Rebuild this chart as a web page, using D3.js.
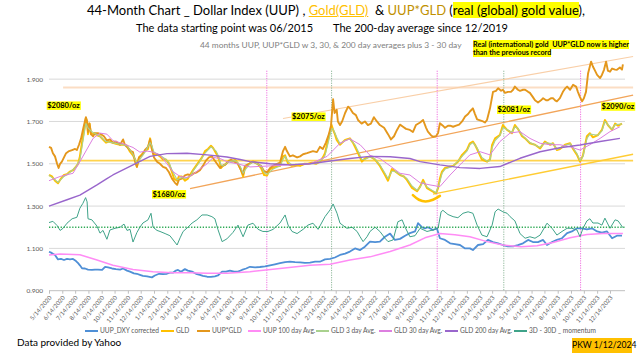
<!DOCTYPE html>
<html><head><meta charset="utf-8">
<script src="https://cdn.jsdelivr.net/npm/d3@7"></script>
<style>
body{margin:0;width:640px;height:360px;overflow:hidden;background:#fff;font-family:Lato,"Liberation Sans",sans-serif;}
#wrap{position:relative;width:640px;height:360px;}
svg{position:absolute;left:0;top:0;}
.t{position:absolute;white-space:nowrap;line-height:1;}
.hl{background:#FFFF00;font-weight:bold;color:#000;}
</style></head><body><div id="wrap"></div>
<script>
// ---------- DATA (x = weeks since 5/14/2020) ----------
const tickLabels = ["5/14/2020","6/14/2020","7/14/2020","8/14/2020","9/14/2020","10/14/2020","11/14/2020","12/14/2020",
"1/14/2021","2/14/2021","3/14/2021","4/14/2021","5/14/2021","6/14/2021","7/14/2021","8/14/2021","9/14/2021","10/14/2021","11/14/2021","12/14/2021",
"1/14/2022","2/14/2022","3/14/2022","4/14/2022","5/14/2022","6/14/2022","7/14/2022","8/14/2022","9/14/2022","10/14/2022","11/14/2022","12/14/2022",
"1/14/2023","2/14/2023","3/14/2023","4/14/2023","5/14/2023","6/14/2023","7/14/2023","8/14/2023","9/14/2023","10/14/2023","11/14/2023","12/14/2023"];
const yTicks = [0.9,1.1,1.3,1.5,1.7,1.9];

const uupDxy = [[0,1.084],[0.7,1.08],[1.3,1.075],[2,1.069],[3,1.048],[4,1.05],[5,1.045],[6,1.05],[7,1.048],[8,1.05],[9,1.04],[9.7,1.03],[10.3,1.02],[11,1.006],[12,1.005],[13,1.0],[14.3,0.998],[15.3,1.0],[16.3,1.0],[17.7,0.998],[18.7,1.013],[19.7,1.01],[21,1.005],[22.3,1.002],[23.7,1.0],[24.7,1.005],[26,0.995],[27,0.99],[28.3,0.982],[29.3,0.98],[30.3,0.975],[31.3,0.97],[32.7,0.968],[34.3,0.963],[35.3,0.972],[36.7,0.98],[38,0.978],[39.3,0.98],[40.3,0.985],[41.3,0.985],[42.3,0.995],[43,0.998],[44,0.99],[45.3,1.002],[46.3,0.995],[47.7,0.99],[49,0.98],[50.3,0.975],[51.3,0.97],[52.7,0.966],[54,0.965],[55.3,0.968],[56.3,0.972],[57.7,0.99],[59,0.99],[60.3,0.995],[61.7,0.99],[63,0.99],[64.3,0.998],[65.7,1.005],[67,1.013],[68.7,1.01],[70.3,1.012],[72,1.015],[73.7,1.02],[75.3,1.025],[77,1.03],[78.7,1.035],[80.3,1.037],[82,1.035],[83.7,1.034],[85.3,1.032],[87,1.033],[88.7,1.037],[90.3,1.037],[92,1.048],[93.7,1.05],[95.3,1.057],[97,1.069],[98.7,1.075],[100.3,1.085],[102,1.1],[103.7,1.092],[105.3,1.108],[107,1.132],[108.7,1.13],[110.3,1.132],[112,1.155],[113.7,1.17],[115.3,1.14],[117,1.145],[118.7,1.16],[120.3,1.172],[122,1.18],[123,1.219],[124.3,1.2],[125.3,1.195],[126.3,1.2],[128,1.187],[129.3,1.195],[130.3,1.148],[132,1.14],[133.7,1.124],[135.3,1.12],[137,1.116],[138.7,1.1],[140.3,1.1],[141.3,1.092],[143,1.116],[144.7,1.12],[146.3,1.14],[148,1.13],[149.7,1.124],[151.3,1.116],[153,1.11],[154.7,1.11],[156.3,1.115],[158,1.124],[159.7,1.14],[161.3,1.13],[163,1.13],[164.7,1.14],[166,1.116],[167.7,1.13],[169.3,1.14],[171,1.148],[172.7,1.172],[174.3,1.18],[176,1.195],[177.7,1.195],[179.3,1.19],[181,1.195],[182.7,1.18],[184.3,1.175],[186,1.18],[187.7,1.148],[189.3,1.16],[191,1.16]];

const gld = [[0,1.447],[1,1.44],[2,1.42],[3,1.408],[4,1.43],[5,1.447],[6,1.45],[7,1.463],[8,1.47],[9,1.487],[9.7,1.5],[10.3,1.535],[11,1.6],[11.7,1.66],[12.3,1.716],[12.7,1.7],[13,1.64],[13.5,1.69],[14,1.64],[15,1.645],[16,1.635],[17,1.63],[18,1.615],[19,1.6],[20,1.605],[21,1.6],[22.3,1.595],[23.7,1.59],[25,1.59],[26,1.585],[27,1.557],[28,1.54],[28.7,1.52],[29.3,1.487],[30,1.53],[31,1.545],[32,1.56],[33,1.57],[33.7,1.62],[34.3,1.57],[35,1.545],[36,1.545],[37,1.535],[38,1.52],[39,1.52],[40,1.5],[41,1.46],[41.7,1.43],[42.7,1.42],[43.3,1.44],[44.3,1.44],[45.3,1.42],[46.3,1.43],[47,1.447],[48,1.47],[49,1.49],[50,1.51],[51,1.53],[52,1.56],[53,1.57],[54,1.585],[54.7,1.575],[55.7,1.55],[56.7,1.52],[57.3,1.48],[58,1.49],[59,1.5],[60,1.515],[61,1.51],[62,1.52],[63,1.5],[64,1.47],[64.7,1.44],[65.3,1.48],[66.7,1.5],[68,1.51],[69.3,1.505],[70.7,1.48],[71.7,1.447],[72.7,1.445],[73.7,1.475],[74.7,1.48],[76,1.49],[77,1.49],[78,1.535],[78.7,1.54],[79.7,1.5],[81,1.49],[82.3,1.495],[83.7,1.49],[85,1.5],[86.3,1.5],[87.7,1.505],[89,1.5],[90.3,1.51],[91.3,1.53],[92,1.55],[93,1.613],[94.2,1.683],[94.7,1.66],[95.3,1.64],[95.9,1.613],[97,1.59],[98.7,1.613],[100.3,1.62],[101.3,1.6],[102,1.58],[103,1.55],[104.3,1.51],[105.3,1.525],[107,1.535],[108.7,1.52],[110.3,1.49],[112,1.447],[113,1.42],[114.3,1.475],[115.3,1.465],[117,1.447],[118.3,1.44],[119.3,1.424],[121,1.386],[122.7,1.37],[123.7,1.392],[124.7,1.424],[126,1.385],[127,1.376],[128,1.368],[129,1.36],[129.7,1.385],[130.3,1.43],[131,1.463],[132,1.48],[133.7,1.487],[134.7,1.49],[136.3,1.51],[137.7,1.542],[139.3,1.565],[140.3,1.597],[141.3,1.605],[142,1.59],[142.7,1.57],[144.3,1.52],[146,1.51],[147,1.52],[147.7,1.589],[148.7,1.62],[150.3,1.636],[151.3,1.683],[152.7,1.66],[154.3,1.645],[155.3,1.683],[156.3,1.665],[157.7,1.63],[158.7,1.62],[160.3,1.597],[162,1.59],[163.7,1.573],[165.3,1.605],[167,1.59],[168,1.597],[169.3,1.565],[170.3,1.57],[172,1.59],[173.7,1.597],[174.7,1.57],[176,1.542],[177,1.51],[178,1.54],[179.3,1.63],[180.3,1.644],[181.3,1.625],[183,1.636],[184.3,1.66],[185.3,1.707],[186.3,1.683],[187.7,1.66],[188.7,1.69],[189.7,1.68],[191,1.69]];

const uupGld = [[0,1.58],[0.7,1.575],[1.3,1.55],[2,1.535],[2.7,1.5],[3.2,1.48],[3.7,1.5],[4.3,1.51],[5,1.53],[5.7,1.55],[6.7,1.56],[7.7,1.565],[8.7,1.57],[9.3,1.565],[10,1.59],[10.7,1.62],[11.3,1.66],[11.8,1.69],[12.3,1.72],[12.7,1.7],[13,1.65],[13.5,1.69],[14,1.64],[14.7,1.63],[15.3,1.645],[16.3,1.645],[17.3,1.64],[18.3,1.63],[19.3,1.61],[20.3,1.615],[21.3,1.6],[22.3,1.605],[23.7,1.59],[24.7,1.615],[25.3,1.59],[26.3,1.575],[27.3,1.56],[28,1.555],[28.7,1.51],[29.3,1.485],[30,1.53],[31,1.54],[32,1.565],[33,1.58],[33.7,1.615],[34.3,1.57],[35,1.53],[36,1.51],[37,1.5],[38,1.485],[39,1.48],[40,1.46],[41,1.43],[42,1.41],[42.7,1.4],[43.3,1.425],[44.3,1.43],[45.3,1.445],[46.3,1.45],[47.3,1.445],[48.3,1.455],[49.3,1.46],[50.3,1.47],[51.3,1.49],[52.3,1.515],[53.3,1.53],[54.3,1.535],[55,1.52],[56,1.5],[57,1.48],[57.7,1.49],[58.7,1.495],[59.7,1.51],[60.7,1.52],[61.7,1.51],[63,1.5],[64,1.47],[64.7,1.45],[65.3,1.49],[66.7,1.5],[68,1.51],[69.3,1.5],[70.7,1.49],[71.7,1.465],[72.7,1.46],[73.7,1.48],[74.7,1.49],[76,1.5],[77,1.505],[78,1.56],[78.7,1.58],[79.3,1.56],[80.3,1.535],[81.3,1.54],[82.7,1.53],[83.7,1.535],[84.7,1.545],[86,1.55],[87,1.555],[88,1.56],[89.3,1.555],[90.3,1.58],[91.3,1.57],[92.3,1.6],[93.3,1.64],[94,1.68],[94.7,1.805],[95.2,1.74],[95.9,1.755],[96.3,1.7],[97,1.683],[97.7,1.7],[98.7,1.74],[99.7,1.77],[100.3,1.762],[101.3,1.74],[102.3,1.73],[103,1.707],[104.2,1.69],[105.3,1.7],[106.3,1.683],[107.3,1.69],[108.3,1.72],[109.3,1.7],[110.3,1.683],[111.7,1.67],[113,1.64],[114,1.615],[115,1.63],[116,1.66],[117,1.685],[118,1.675],[119,1.665],[120.3,1.66],[121.3,1.65],[122.3,1.683],[123.7,1.695],[124.7,1.707],[125.7,1.67],[126.3,1.652],[127.3,1.635],[128,1.628],[129,1.63],[129.7,1.645],[130.3,1.692],[131.3,1.68],[132,1.67],[133,1.68],[133.7,1.68],[134.7,1.675],[135.7,1.68],[136.7,1.685],[137.7,1.7],[138.7,1.723],[139.7,1.735],[140.3,1.747],[141.3,1.762],[142,1.735],[142.7,1.71],[143.7,1.705],[144.7,1.7],[145.3,1.695],[146,1.707],[147,1.762],[148,1.84],[149,1.845],[149.7,1.857],[150.7,1.845],[151.3,1.85],[152,1.835],[153,1.84],[154,1.84],[154.7,1.85],[155.3,1.865],[156.3,1.85],[157,1.845],[158,1.85],[158.7,1.85],[159.7,1.84],[160.3,1.835],[161.3,1.815],[162,1.8],[163,1.79],[164,1.8],[164.7,1.81],[165.7,1.8],[166.3,1.8],[167.3,1.81],[168,1.81],[168.7,1.8],[169.3,1.795],[170.3,1.81],[171.3,1.84],[172,1.855],[172.7,1.865],[173.7,1.85],[174.7,1.873],[175.7,1.865],[176.3,1.84],[177,1.815],[177.7,1.795],[178.3,1.81],[179,1.84],[179.7,1.928],[180.7,1.983],[181.3,1.96],[182,1.94],[182.7,1.92],[183.7,1.905],[184.3,1.92],[185,1.944],[185.7,1.983],[186.3,1.94],[187,1.935],[187.7,1.95],[188.7,1.945],[189.3,1.944],[190.3,1.955],[191,1.945],[191.3,1.97]];

const uup100 = [[0,1.069],[3.7,1.073],[10.3,1.07],[16,1.045],[21.3,1.02],[28,1.0],[34.7,0.99],[41.3,0.985],[47,0.985],[52.7,0.982],[59.3,0.982],[67,0.99],[77,1.005],[87,1.02],[93.7,1.025],[100.3,1.045],[107,1.06],[113.7,1.085],[120.3,1.116],[125.3,1.15],[130.3,1.17],[135.3,1.165],[140.3,1.155],[146,1.132],[151.3,1.116],[157.3,1.108],[162.7,1.112],[168,1.128],[173.7,1.15],[179.3,1.166],[184.7,1.17],[191.3,1.17]];

const gld3 = [[0,1.445],[2,1.425],[3,1.412],[5,1.44],[7,1.46],[9,1.485],[10.3,1.52],[11,1.58],[11.7,1.64],[12.3,1.69],[13,1.67],[14,1.655],[15,1.645],[17,1.63],[19,1.605],[21,1.6],[23.7,1.592],[26,1.585],[28,1.545],[29.3,1.5],[30,1.515],[32,1.555],[33.7,1.6],[34.3,1.585],[35,1.555],[37,1.54],[39,1.52],[40,1.505],[41,1.47],[42.7,1.425],[44.3,1.435],[45.3,1.43],[47,1.44],[48,1.465],[50,1.505],[52,1.55],[54,1.58],[55.7,1.56],[56.7,1.53],[57.3,1.495],[58,1.49],[60,1.51],[62,1.515],[63,1.505],[64,1.48],[64.7,1.455],[65.3,1.47],[66.7,1.495],[68,1.51],[70.7,1.49],[71.7,1.46],[72.7,1.45],[74.7,1.475],[77,1.49],[78,1.52],[78.7,1.535],[79.7,1.51],[81,1.495],[85,1.5],[89,1.5],[91.3,1.525],[92,1.54],[93,1.595],[94.2,1.665],[94.7,1.665],[95.9,1.625],[97,1.595],[98.7,1.61],[100.3,1.618],[102,1.59],[103,1.56],[104.3,1.52],[105.3,1.52],[107,1.533],[108.7,1.522],[110.3,1.495],[112,1.455],[113,1.43],[114.3,1.465],[115.3,1.465],[117,1.45],[119.3,1.43],[121,1.395],[122.7,1.375],[123.7,1.39],[124.7,1.415],[126,1.39],[128,1.372],[129,1.362],[130.3,1.415],[131,1.455],[132,1.475],[134.7,1.488],[137.7,1.535],[139.3,1.56],[140.3,1.59],[141.3,1.6],[142.7,1.575],[144.3,1.53],[146,1.512],[147,1.515],[147.7,1.575],[148.7,1.61],[150.3,1.633],[151.3,1.672],[152.7,1.662],[154.3,1.648],[155.3,1.675],[156.3,1.668],[157.7,1.635],[160.3,1.6],[163.7,1.577],[165.3,1.6],[168,1.595],[169.3,1.568],[172,1.587],[173.7,1.595],[176,1.548],[177,1.515],[178,1.535],[179.3,1.62],[180.3,1.64],[183,1.635],[184.3,1.655],[185.3,1.7],[186.3,1.685],[187.7,1.663],[188.7,1.685],[191,1.688]];

const gld30 = [[0,1.42],[3.7,1.44],[8,1.455],[10.3,1.51],[12.7,1.57],[14.7,1.62],[17,1.645],[19.3,1.64],[21.3,1.61],[24.7,1.595],[28,1.577],[30.3,1.555],[32.7,1.56],[34.7,1.555],[37,1.542],[39.3,1.5],[41.3,1.463],[43.7,1.44],[46,1.435],[48,1.45],[50.3,1.475],[52.7,1.5],[54.7,1.53],[57,1.525],[59.3,1.51],[62.7,1.5],[67,1.485],[73.7,1.49],[80.3,1.495],[87,1.5],[92.7,1.535],[97,1.597],[100.3,1.618],[103.7,1.59],[107,1.54],[110.3,1.525],[113.7,1.49],[117,1.455],[120.3,1.447],[123.7,1.41],[127,1.4],[130.3,1.392],[133.7,1.447],[137,1.495],[140.3,1.542],[143.7,1.557],[147,1.542],[150.3,1.605],[153.7,1.645],[157,1.652],[160.3,1.62],[163.7,1.597],[167,1.59],[170.3,1.59],[173.7,1.58],[177,1.565],[180.3,1.59],[183.7,1.62],[187,1.652],[190.3,1.675]];

const gld200 = [[0,1.3],[6,1.33],[10.3,1.352],[16,1.4],[19.3,1.43],[21.3,1.447],[28,1.495],[33.7,1.535],[39.3,1.548],[46,1.55],[52.7,1.542],[59.3,1.532],[63.7,1.52],[67,1.51],[73.7,1.5],[80.3,1.495],[87,1.5],[93.7,1.513],[100.3,1.525],[107,1.535],[113.7,1.533],[120.3,1.525],[123.7,1.51],[130.3,1.495],[137,1.482],[143.7,1.478],[150.3,1.487],[157,1.526],[163.7,1.557],[170.3,1.576],[177,1.589],[183.7,1.605],[190.3,1.62]];

const momentum = [[0,1.222],[1.3,1.228],[2.7,1.208],[3.7,1.185],[4.7,1.195],[6,1.219],[7.7,1.24],[9.3,1.247],[10.3,1.29],[11.3,1.313],[12.2,1.34],[12.7,1.32],[13,1.24],[14.3,1.235],[16,1.205],[17,1.172],[18,1.185],[19.3,1.143],[20.3,1.187],[22,1.195],[23.7,1.2],[25,1.215],[26,1.185],[27,1.19],[28,1.13],[29.3,1.175],[30.3,1.2],[31.3,1.22],[33,1.235],[34,1.266],[34.7,1.2],[36,1.185],[37,1.18],[38.7,1.17],[40.3,1.16],[42.7,1.116],[43.7,1.15],[44.7,1.18],[46.3,1.2],[47.7,1.22],[49.3,1.235],[51,1.258],[52.7,1.258],[54.3,1.25],[55.3,1.24],[56.3,1.19],[57.7,1.132],[59.3,1.145],[61.3,1.175],[63,1.21],[64.7,1.155],[66.3,1.21],[68,1.219],[69.7,1.19],[71.3,1.18],[73,1.18],[74.7,1.19],[77,1.22],[78.7,1.258],[79.7,1.21],[81,1.18],[82.7,1.17],[84.7,1.19],[86.3,1.21],[88,1.219],[89.7,1.19],[92,1.25],[93.7,1.282],[94.7,1.31],[96,1.266],[97,1.219],[99.3,1.195],[101,1.2],[102.7,1.18],[103.7,1.155],[104.7,1.132],[106,1.155],[107,1.18],[108.7,1.2],[110.3,1.18],[112,1.148],[113,1.132],[114.7,1.14],[116.3,1.226],[117.7,1.235],[118.7,1.2],[120.3,1.155],[122,1.16],[123.7,1.195],[126,1.18],[128,1.187],[129.7,1.195],[130.7,1.273],[131.3,1.28],[133,1.26],[134.7,1.25],[136.3,1.245],[138,1.266],[139.7,1.273],[141.3,1.266],[142.7,1.21],[144.3,1.163],[146,1.155],[147.7,1.21],[148.7,1.273],[149.7,1.286],[151.3,1.273],[152.7,1.266],[153.7,1.25],[155.3,1.23],[157,1.17],[158.7,1.148],[160.3,1.155],[162,1.148],[163.7,1.163],[166,1.219],[167.7,1.195],[169.3,1.163],[171,1.18],[172.7,1.195],[174.3,1.195],[176,1.187],[177,1.155],[178,1.195],[179.3,1.23],[180.3,1.24],[181.3,1.22],[183,1.22],[184.3,1.21],[185.3,1.243],[187,1.195],[188.7,1.235],[189.7,1.23],[191.3,1.198]];

// reference / trend lines: [week, value]
const momentumBase = 1.2;
const hLineOrange = [[4.7,1.86],[194.7,1.86]];
const hLineYellow = [[6,1.515],[194.7,1.515]];
const trendLowerOrange = [[47,1.382],[194.7,1.825]];
const trendUpper = [[78,1.714],[194.7,2.007]];
const trendLowerGold = [[128,1.356],[194.7,1.545]];
const smile = [[121.3,1.352],[123.3,1.330],[125.5,1.322],[128,1.330],[130.3,1.348]];
const vLinesPink = [72.6,129.4,177.2];
const vLinesGreen = [94.2,151.6];
const vTop = 1.94;
const priceNotes = [["$2080/oz",-0.6,1.764],["$1680/oz",34.5,1.345],["$2075/oz",81,1.712],["$2081/oz",149.5,1.745],["$2090/oz",184.2,1.76]];

// ---------- CHART ----------
const W=640,H=360;
const wrap=d3.select("#wrap");
const svg=wrap.append("svg").attr("width",W).attr("height",H);
const parse=d3.utcParse("%m/%d/%Y");
const tickDates=tickLabels.map(parse);
const t0=tickDates[0];
const toDate=w=>new Date(t0.getTime()+w*7*864e5);
const x=d3.scaleUtc().domain([tickDates[0],tickDates[tickDates.length-1]]).range([49,610]);
const y=d3.scaleLinear().domain([0.9,2.0]).range([290.7,58]);
const X=w=>x(toDate(w));
const plotRight=625;

// gridlines
svg.append("g").selectAll("line").data(yTicks.slice(1)).join("line")
  .attr("x1",x.range()[0]).attr("x2",plotRight).attr("y1",d=>y(d)).attr("y2",d=>y(d))
  .attr("stroke","#D9D9D9").attr("stroke-width",1);

// y axis labels
const ya=svg.append("g").attr("transform","translate(45,0)")
  .call(d3.axisLeft(y).tickValues(yTicks).tickFormat(d3.format(".3f")).tickSize(0).tickPadding(2));
ya.select(".domain").remove();
ya.selectAll("text").attr("fill","#595959").style("font-size","6.5px").style("font-family","Lato");

// x axis
const xa=svg.append("g").attr("transform",`translate(0,${y(0.9)})`)
  .call(d3.axisBottom(x).tickValues(tickDates).tickFormat((d,i)=>tickLabels[i]).tickSize(3).tickSizeOuter(0));
xa.select(".domain").remove();
xa.selectAll(".tick line").attr("stroke","#BFBFBF");
xa.selectAll("text").attr("fill","#595959").style("font-size","6px").style("font-family","Lato")
  .attr("text-anchor","end").attr("x",0).attr("y",0).attr("dy","0.3em")
  .attr("transform","translate(1,6) rotate(-50)");
svg.append("line").attr("x1",x.range()[0]).attr("x2",plotRight).attr("y1",y(0.9)).attr("y2",y(0.9))
  .attr("stroke","#BFBFBF").attr("stroke-width",1);

const line=d3.line().x(d=>X(d[0])).y(d=>y(d[1]));

// reference lines
const refs=[[hLineOrange,"#FBDDC4",2],[hLineYellow,"#FFD34D",1.8],[trendLowerOrange,"#F2A55A",1.3],[trendUpper,"#F9CFA8",1.2],[trendLowerGold,"#FFCC33",1.3]];
svg.append("g").selectAll("path").data(refs).join("path")
  .attr("d",d=>line(d[0])).attr("fill","none").attr("stroke",d=>d[1]).attr("stroke-width",d=>d[2]);

// vertical marker lines
svg.append("g").selectAll("line").data(vLinesPink).join("line")
  .attr("x1",d=>X(d)).attr("x2",d=>X(d)).attr("y1",y(vTop)).attr("y2",y(0.9))
  .attr("stroke","#F070E0").attr("stroke-width",1).attr("stroke-dasharray","1.2,1.2");
svg.append("g").selectAll("line").data(vLinesGreen).join("line")
  .attr("x1",d=>X(d)).attr("x2",d=>X(d)).attr("y1",y(vTop)).attr("y2",y(0.9))
  .attr("stroke","#8FB89A").attr("stroke-width",1).attr("stroke-dasharray","1.2,1.2");

// series
const series=[
 {name:"UUP_DXY corrected",data:uupDxy,color:"#4F8FD6",w:1.8},
 {name:"GLD",data:gld,color:"#FFC000",w:2},
 {name:"UUP*GLD",data:uupGld,color:"#E4971C",w:1.9},
 {name:"UUP 100 day Avg.",data:uup100,color:"#FF8CF5",w:1.5},
 {name:"GLD 3 day Avg.",data:gld3,color:"#A9D18E",w:1.1},
 {name:"GLD 30 day Avg.",data:gld30,color:"#DD7FE0",w:1},
 {name:"GLD 200 day Avg.",data:gld200,color:"#9966CC",w:1.4},
 {name:"3D - 30D _ momentum",data:momentum,color:"#3FA389",w:1}
];
svg.append("g").selectAll("path").data(series).join("path")
  .attr("d",d=>line(d.data)).attr("fill","none").attr("stroke",d=>d.color)
  .attr("stroke-width",d=>d.w).attr("stroke-linejoin","round");

// momentum baseline (dotted)
svg.append("line").attr("x1",x.range()[0]).attr("x2",plotRight).attr("y1",y(momentumBase)).attr("y2",y(momentumBase))
  .attr("stroke","#2EAA55").attr("stroke-width",1.3).attr("stroke-dasharray","1.3,1.6");

// smile bracket
svg.append("path").attr("d",d3.line().x(d=>X(d[0])).y(d=>y(d[1])).curve(d3.curveCardinal)(smile))
  .attr("fill","none").attr("stroke","#FFC000").attr("stroke-width",2.6).attr("stroke-linecap","round");

// price labels
priceNotes.forEach(([txt,w,v])=>{
  const g=svg.append("g");
  const tx=g.append("text").attr("x",X(w)).attr("y",y(v)).text(txt)
    .style("font-family","Lato").style("font-weight","bold").style("font-size","7.5px").attr("fill","#000");
  const bb=tx.node().getBBox();
  g.insert("rect","text").attr("x",bb.x-0.5).attr("y",bb.y+0.5).attr("width",bb.width+1).attr("height",bb.height-0.5).attr("fill","#FFFF00");
});

// legend
const lg=svg.append("g").attr("transform","translate(0,331)");
const legX=[85,161,197,248,316,379,445,514];
series.forEach((s,i)=>{
  lg.append("line").attr("x1",legX[i]).attr("x2",legX[i]+13).attr("y1",0).attr("y2",0).attr("stroke",s.color).attr("stroke-width",2);
  lg.append("text").attr("x",legX[i]+15).attr("y",2.2).text(s.name)
    .style("font-family","Lato").style("font-size","6.6px").attr("fill","#595959");
});

// titles & notes (HTML text)
wrap.append("div").attr("class","t").style("left","87px").style("top","4px").style("font-size","13px")
  .html('44-Month Chart _ Dollar Index (UUP) , <span style="color:#FFC000;text-decoration:underline">Gold(GLD)</span>&nbsp; &amp; <span style="color:#BF9000">UUP*GLD</span> (<span style="background:#FFFF00">real (global) gold value</span>),');
wrap.append("div").attr("class","t").style("left","136px").style("top","22px").style("font-size","11px")
  .text("The data starting point was 06/2015");
wrap.append("div").attr("class","t").style("left","333px").style("top","22px").style("font-size","11px")
  .text("The 200-day average since 12/2019");
wrap.append("div").attr("class","t").style("left","200px").style("top","41px").style("font-size","8.4px").style("color","#808080")
  .text("44 months UUP, UUP*GLD w 3, 30, & 200 day averages plus 3  - 30 day");
wrap.append("div").attr("class","t").style("left","473px").style("top","41px").style("font-size","7.2px").style("line-height","8.4px")
  .html('<span class="hl">Real (international) gold&nbsp; UUP*GLD now is higher</span><br><span class="hl">than the previous record</span>');
wrap.append("div").attr("class","t").style("left","17px").style("top","337px").style("font-size","10px")
  .text("Data provided by Yahoo");
wrap.append("div").attr("class","t").style("left","572px").style("top","338px").style("width","60px").style("height","15px")
  .style("background","#FFC000").style("font-size","8.6px").style("line-height","15px").style("text-align","center")
  .text("PKW 1/12/2024");
</script></body></html>
